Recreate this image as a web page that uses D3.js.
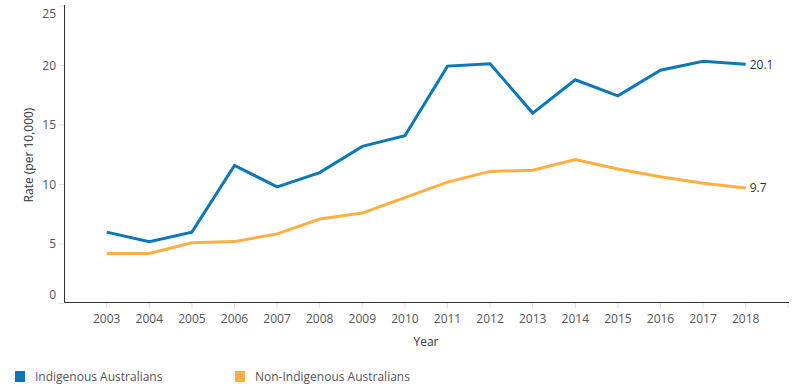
<!DOCTYPE html>
<html><head><meta charset="utf-8">
<script src="https://cdn.jsdelivr.net/npm/d3@7"></script>
<style>body{margin:0;background:#fff}svg{display:block}text{font-family:"Open Sans","Noto Sans",sans-serif}</style>
</head><body><svg id="c" width="800" height="392"></svg>
<script>
const years = [2003,2004,2005,2006,2007,2008,2009,2010,2011,2012,2013,2014,2015,2016,2017,2018];
const indigenous = [6.0,5.2,6.0,11.6,9.8,11.0,13.2,14.1,19.95,20.15,16.0,18.8,17.45,19.6,20.35,20.1];
const nonIndigenous = [4.2,4.2,5.1,5.2,5.85,7.1,7.6,8.9,10.2,11.1,11.2,12.1,11.3,10.65,10.1,9.7];
const yTicks = [0,5,10,15,20,25];
const seriesNames = ["Indigenous Australians","Non-Indigenous Australians"];
const colors = ["#0a78b8","#fdb03f"];

const svg = d3.select("#c");
const x = d3.scaleLinear().domain([2003,2018]).range([106.7,745.7]);
const y = d3.scaleLinear().domain([0,25]).range([303.5,6]);

// axes lines
svg.append("line").attr("x1",64.5).attr("x2",64.5).attr("y1",5).attr("y2",303).attr("stroke","#333").attr("stroke-width",1);
svg.append("line").attr("x1",64).attr("x2",789).attr("y1",302.5).attr("y2",302.5).attr("stroke","#333").attr("stroke-width",1);

// y ticks
const yg = svg.append("g");
yTicks.forEach(t=>{
  yg.append("line").attr("x1",59).attr("x2",64).attr("y1",y(t)).attr("y2",y(t)).attr("stroke","#ddd");
  let ly = y(t);
  if (t===0) ly = 295; if (t===25) ly = 14;
  yg.append("text").attr("x",56).attr("y",ly).attr("dy","0.35em").attr("text-anchor","end")
    .attr("font-size",12).attr("fill","#555").text(t);
});

// x ticks
const xg = svg.append("g");
years.forEach(yr=>{
  xg.append("line").attr("x1",x(yr)).attr("x2",x(yr)).attr("y1",303).attr("y2",308).attr("stroke","#ddd");
  xg.append("text").attr("x",x(yr)).attr("y",319).attr("dy","0.35em").attr("text-anchor","middle")
    .attr("font-size",12).attr("fill","#555").text(yr);
});
xg.append("line").attr("x1",788).attr("x2",788).attr("y1",303).attr("y2",308).attr("stroke","#ddd");

// axis titles
svg.append("text").attr("x",426).attr("y",342).attr("dy","0.35em").attr("text-anchor","middle")
  .attr("font-size",12).attr("fill","#333").text("Year");
svg.append("text").attr("transform","translate(29,155) rotate(-90)").attr("dy","0.35em").attr("text-anchor","middle")
  .attr("font-size",12).attr("fill","#333").text("Rate (per 10,000)");

// lines
const line = d3.line().x((d,i)=>x(years[i])).y(d=>y(d));
[indigenous, nonIndigenous].forEach((s,k)=>{
  svg.append("path").datum(s).attr("d",line).attr("fill","none").attr("stroke",colors[k])
    .attr("stroke-width",3).attr("stroke-linejoin","miter");
  const last = s[s.length-1];
  svg.append("text").attr("x",x(2018)+4).attr("y",y(last)).attr("dy","0.35em")
    .attr("font-size",12).attr("fill","#333").text(last.toFixed(1));
});

// legend
const lx = [15,235];
seriesNames.forEach((n,k)=>{
  svg.append("rect").attr("x",lx[k]).attr("y",371).attr("width",10).attr("height",11).attr("fill",colors[k]);
  svg.append("text").attr("x",lx[k]+20).attr("y",377).attr("dy","0.35em")
    .attr("font-size",12).attr("fill","#555").text(n);
});
</script></body></html>
